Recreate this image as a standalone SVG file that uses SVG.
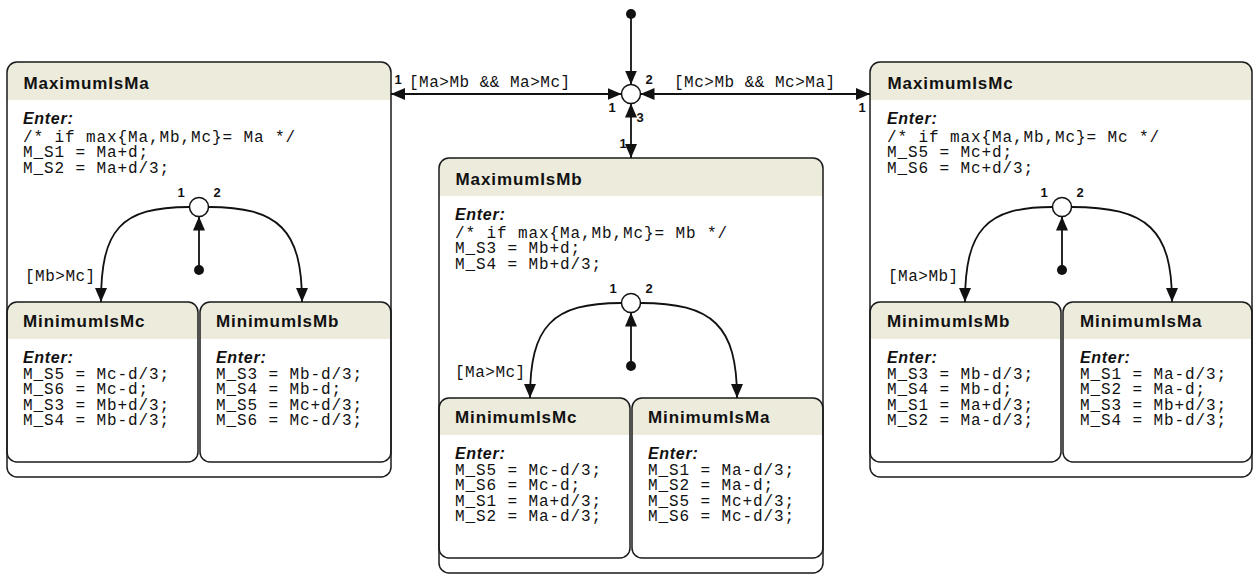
<svg xmlns="http://www.w3.org/2000/svg" width="1253" height="576" viewBox="0 0 1253 576">
<style>
.bg{fill:#fff;stroke:none}
.hd{fill:#ecebdc;stroke:none}
.ol{fill:none;stroke:#1a1a1a;stroke-width:1.5}
.title{font-family:"Liberation Sans",Arial,sans-serif;font-weight:bold;font-size:17px;letter-spacing:0.9px;fill:#111}
.enter{font-family:"Liberation Sans",Arial,sans-serif;font-weight:bold;font-style:italic;font-size:16px;letter-spacing:0.7px;fill:#111}
.code{font-family:"Liberation Mono","Courier New",monospace;font-size:16px;letter-spacing:0.9px;fill:#111;white-space:pre}
.guard{font-family:"Liberation Mono","Courier New",monospace;font-size:16px;letter-spacing:0.5px;fill:#111;white-space:pre}
.num{font-family:"Liberation Sans",Arial,sans-serif;font-weight:bold;font-size:13px;fill:#111;text-anchor:middle}
.cn{fill:none;stroke:#111;stroke-width:1.8}
.jn{fill:#fff;stroke:#111;stroke-width:1.5}
.dot{fill:#111}
</style>
<defs>
<marker id="ah" viewBox="0 0 14 12" refX="14" refY="6" markerWidth="14" markerHeight="12" markerUnits="userSpaceOnUse" orient="auto-start-reverse">
<path d="M0,0 L14,6 L0,12 Z" fill="#111"/>
</marker>
</defs>

<!-- MaximumIsMa -->
<g id="MaximumIsMa" transform="translate(7,62)">
<rect class="bg" x="0" y="0" width="384" height="415" rx="10"/>
<path class="hd" d="M0,10 A10,10 0 0 1 10,0 H374 A10,10 0 0 1 384,10 V38 H0 Z"/>
<text class="title" x="16.5" y="26.5">MaximumIsMa</text>
<text class="enter" x="16" y="62">Enter:</text>
<text class="code" x="16" y="79.5">/* if max{Ma,Mb,Mc}= Ma */</text>
<text class="code" x="16" y="95">M_S1 = Ma+d;</text>
<text class="code" x="16" y="110.5">M_S2 = Ma+d/3;</text>
<g id="MaximumIsMa_MinimumIsMc" transform="translate(0,240)">
<rect class="bg" x="0" y="0" width="191" height="160" rx="10"/>
<path class="hd" d="M0,10 A10,10 0 0 1 10,0 H181 A10,10 0 0 1 191,10 V37 H0 Z"/>
<rect class="ol" x="0" y="0" width="191" height="160" rx="10"/>
<text class="title" x="16" y="25">MinimumIsMc</text>
<text class="enter" x="16" y="60.5">Enter:</text>
<text class="code" x="16" y="76.5">M_S5 = Mc-d/3;</text>
<text class="code" x="16" y="92">M_S6 = Mc-d;</text>
<text class="code" x="16" y="107.5">M_S3 = Mb+d/3;</text>
<text class="code" x="16" y="123">M_S4 = Mb-d/3;</text>
</g>
<g id="MaximumIsMa_MinimumIsMb" transform="translate(193,240)">
<rect class="bg" x="0" y="0" width="191" height="160" rx="10"/>
<path class="hd" d="M0,10 A10,10 0 0 1 10,0 H181 A10,10 0 0 1 191,10 V37 H0 Z"/>
<rect class="ol" x="0" y="0" width="191" height="160" rx="10"/>
<text class="title" x="16" y="25">MinimumIsMb</text>
<text class="enter" x="16" y="60.5">Enter:</text>
<text class="code" x="16" y="76.5">M_S3 = Mb-d/3;</text>
<text class="code" x="16" y="92">M_S4 = Mb-d;</text>
<text class="code" x="16" y="107.5">M_S5 = Mc+d/3;</text>
<text class="code" x="16" y="123">M_S6 = Mc-d/3;</text>
</g>
<rect class="ol" x="0" y="0" width="384" height="415" rx="10"/>
<g class="inner-connectors">
<path class="cn" d="M182.5,145 C113,145 94,168 94,240" marker-end="url(#ah)"/>
<path class="cn" d="M201.5,145 C272,145 295,168 295,240" marker-end="url(#ah)"/>
<line class="cn" x1="192" y1="208" x2="192" y2="154.5" marker-end="url(#ah)"/>
<circle class="jn" cx="192" cy="145" r="9.5"/>
<circle class="dot" cx="192" cy="208" r="5"/>
<text class="num" x="174" y="135">1</text>
<text class="num" x="210" y="135">2</text>
<text class="guard" x="18" y="219">[Mb&gt;Mc]</text>
</g>
</g>

<!-- MaximumIsMb -->
<g id="MaximumIsMb" transform="translate(439,158)">
<rect class="bg" x="0" y="0" width="384" height="415" rx="10"/>
<path class="hd" d="M0,10 A10,10 0 0 1 10,0 H374 A10,10 0 0 1 384,10 V38 H0 Z"/>
<text class="title" x="16.5" y="26.5">MaximumIsMb</text>
<text class="enter" x="16" y="62">Enter:</text>
<text class="code" x="16" y="79.5">/* if max{Ma,Mb,Mc}= Mb */</text>
<text class="code" x="16" y="95">M_S3 = Mb+d;</text>
<text class="code" x="16" y="110.5">M_S4 = Mb+d/3;</text>
<g id="MaximumIsMb_MinimumIsMc" transform="translate(0,240)">
<rect class="bg" x="0" y="0" width="191" height="160" rx="10"/>
<path class="hd" d="M0,10 A10,10 0 0 1 10,0 H181 A10,10 0 0 1 191,10 V37 H0 Z"/>
<rect class="ol" x="0" y="0" width="191" height="160" rx="10"/>
<text class="title" x="16" y="25">MinimumIsMc</text>
<text class="enter" x="16" y="60.5">Enter:</text>
<text class="code" x="16" y="76.5">M_S5 = Mc-d/3;</text>
<text class="code" x="16" y="92">M_S6 = Mc-d;</text>
<text class="code" x="16" y="107.5">M_S1 = Ma+d/3;</text>
<text class="code" x="16" y="123">M_S2 = Ma-d/3;</text>
</g>
<g id="MaximumIsMb_MinimumIsMa" transform="translate(193,240)">
<rect class="bg" x="0" y="0" width="191" height="160" rx="10"/>
<path class="hd" d="M0,10 A10,10 0 0 1 10,0 H181 A10,10 0 0 1 191,10 V37 H0 Z"/>
<rect class="ol" x="0" y="0" width="191" height="160" rx="10"/>
<text class="title" x="16" y="25">MinimumIsMa</text>
<text class="enter" x="16" y="60.5">Enter:</text>
<text class="code" x="16" y="76.5">M_S1 = Ma-d/3;</text>
<text class="code" x="16" y="92">M_S2 = Ma-d;</text>
<text class="code" x="16" y="107.5">M_S5 = Mc+d/3;</text>
<text class="code" x="16" y="123">M_S6 = Mc-d/3;</text>
</g>
<rect class="ol" x="0" y="0" width="384" height="415" rx="10"/>
<g class="inner-connectors">
<path class="cn" d="M182.5,145 C113,145 91,168 91,240" marker-end="url(#ah)"/>
<path class="cn" d="M201.5,145 C274,145 298,168 298,240" marker-end="url(#ah)"/>
<line class="cn" x1="192" y1="208" x2="192" y2="154.5" marker-end="url(#ah)"/>
<circle class="jn" cx="192" cy="145" r="9.5"/>
<circle class="dot" cx="192" cy="208" r="5"/>
<text class="num" x="174" y="135">1</text>
<text class="num" x="210" y="135">2</text>
<text class="guard" x="16" y="219">[Ma&gt;Mc]</text>
</g>
</g>

<!-- MaximumIsMc -->
<g id="MaximumIsMc" transform="translate(870,62)">
<rect class="bg" x="0" y="0" width="382" height="415" rx="10"/>
<path class="hd" d="M0,10 A10,10 0 0 1 10,0 H372 A10,10 0 0 1 382,10 V38 H0 Z"/>
<text class="title" x="17.5" y="26.5">MaximumIsMc</text>
<text class="enter" x="17" y="62">Enter:</text>
<text class="code" x="17" y="79.5">/* if max{Ma,Mb,Mc}= Mc */</text>
<text class="code" x="17" y="95">M_S5 = Mc+d;</text>
<text class="code" x="17" y="110.5">M_S6 = Mc+d/3;</text>
<g id="MaximumIsMc_MinimumIsMb" transform="translate(0,240)">
<rect class="bg" x="0" y="0" width="191" height="160" rx="10"/>
<path class="hd" d="M0,10 A10,10 0 0 1 10,0 H181 A10,10 0 0 1 191,10 V37 H0 Z"/>
<rect class="ol" x="0" y="0" width="191" height="160" rx="10"/>
<text class="title" x="17" y="25">MinimumIsMb</text>
<text class="enter" x="17" y="60.5">Enter:</text>
<text class="code" x="17" y="76.5">M_S3 = Mb-d/3;</text>
<text class="code" x="17" y="92">M_S4 = Mb-d;</text>
<text class="code" x="17" y="107.5">M_S1 = Ma+d/3;</text>
<text class="code" x="17" y="123">M_S2 = Ma-d/3;</text>
</g>
<g id="MaximumIsMc_MinimumIsMa" transform="translate(193,240)">
<rect class="bg" x="0" y="0" width="189" height="160" rx="10"/>
<path class="hd" d="M0,10 A10,10 0 0 1 10,0 H179 A10,10 0 0 1 189,10 V37 H0 Z"/>
<rect class="ol" x="0" y="0" width="189" height="160" rx="10"/>
<text class="title" x="17" y="25">MinimumIsMa</text>
<text class="enter" x="17" y="60.5">Enter:</text>
<text class="code" x="17" y="76.5">M_S1 = Ma-d/3;</text>
<text class="code" x="17" y="92">M_S2 = Ma-d;</text>
<text class="code" x="17" y="107.5">M_S3 = Mb+d/3;</text>
<text class="code" x="17" y="123">M_S4 = Mb-d/3;</text>
</g>
<rect class="ol" x="0" y="0" width="382" height="415" rx="10"/>
<g class="inner-connectors">
<path class="cn" d="M182.5,145 C116,145 95,168 95,240" marker-end="url(#ah)"/>
<path class="cn" d="M201.5,145 C278,145 302,168 302,240" marker-end="url(#ah)"/>
<line class="cn" x1="192" y1="208" x2="192" y2="154.5" marker-end="url(#ah)"/>
<circle class="jn" cx="192" cy="145" r="9.5"/>
<circle class="dot" cx="192" cy="208" r="5"/>
<text class="num" x="174" y="135">1</text>
<text class="num" x="210" y="135">2</text>
<text class="guard" x="18" y="219">[Ma&gt;Mb]</text>
</g>
</g>

<!-- top-level connectors -->
<g id="connectors">
<line class="cn" x1="631" y1="14" x2="631" y2="84.5" marker-end="url(#ah)"/>
<path class="cn" d="M621.5,94 L391,94" marker-start="url(#ah)" marker-end="url(#ah)"/>
<path class="cn" d="M640.5,94 L870,94" marker-start="url(#ah)" marker-end="url(#ah)"/>
<path class="cn" d="M631,103.5 L631,158" marker-start="url(#ah)" marker-end="url(#ah)"/>
<text class="guard" x="409" y="87">[Ma&gt;Mb &amp;&amp; Ma&gt;Mc]</text>
<text class="guard" x="674" y="87">[Mc&gt;Mb &amp;&amp; Mc&gt;Ma]</text>
<text class="num" x="398" y="84">1</text>
<text class="num" x="649" y="84">2</text>
<text class="num" x="612" y="112">1</text>
<text class="num" x="640" y="122">3</text>
<text class="num" x="623" y="148">1</text>
<text class="num" x="862" y="112">1</text>
</g>
<g id="top-junction">
<circle class="dot" cx="631" cy="14" r="5"/>
<circle class="jn" cx="631" cy="94" r="9.5"/>
</g>
</svg>
